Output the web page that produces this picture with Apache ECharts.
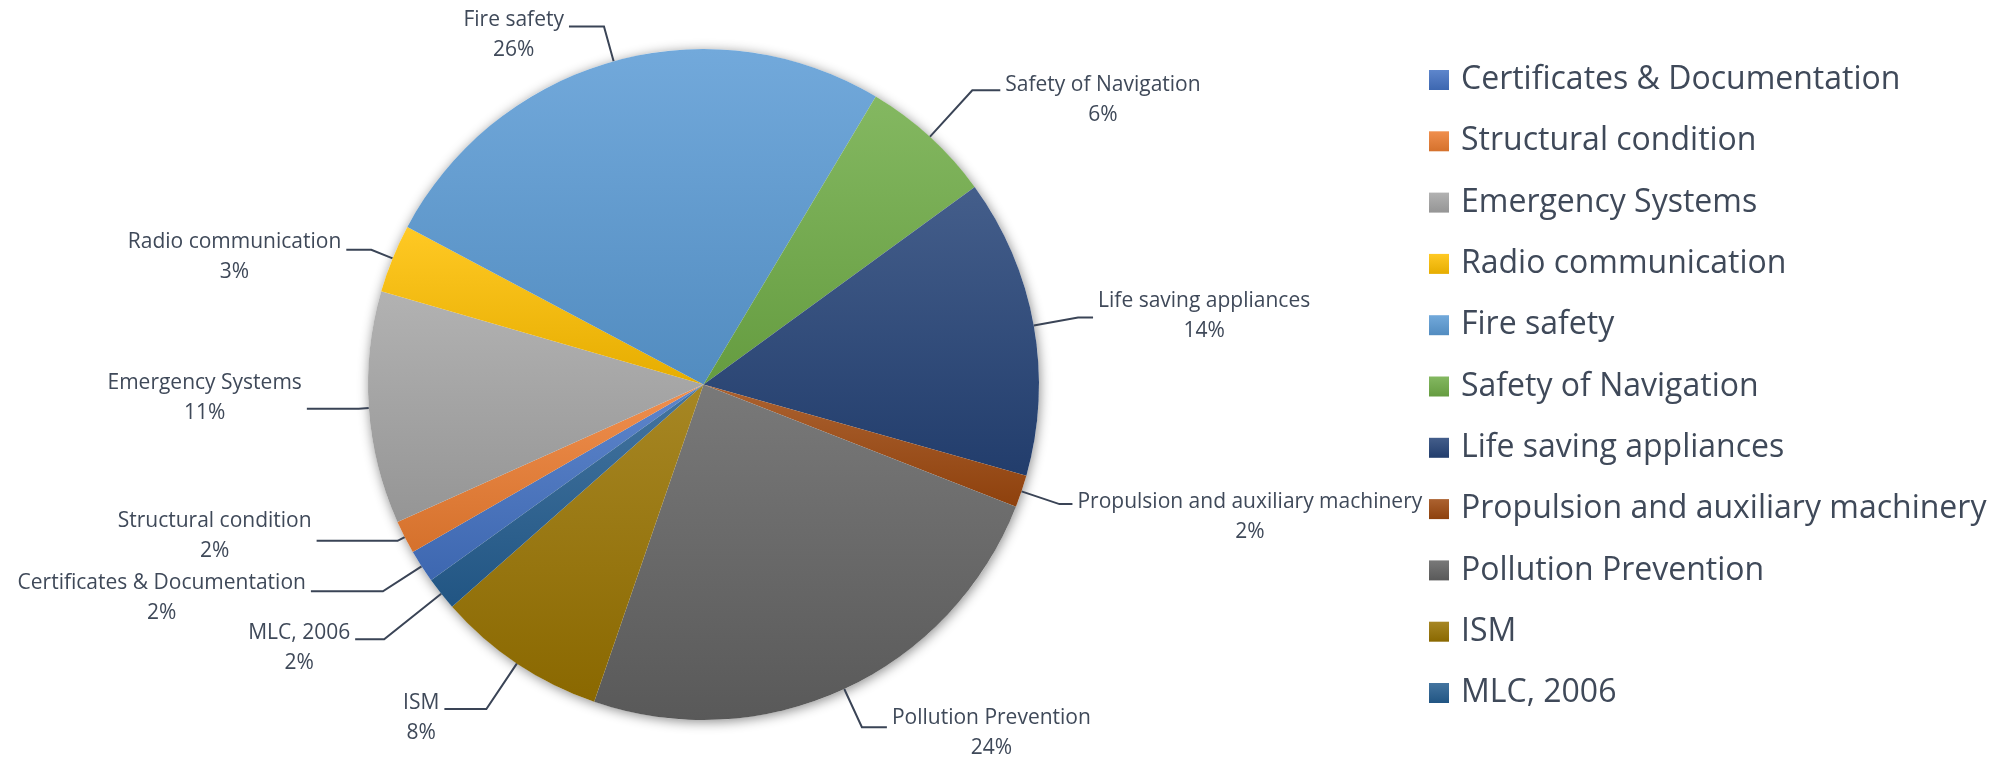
<!DOCTYPE html>
<html><head><meta charset="utf-8">
<script src="https://cdn.jsdelivr.net/npm/echarts@6/dist/echarts.min.js"></script>
<style>html,body{margin:0;padding:0;background:#fff}#c{width:2000px;height:757px}</style>
</head><body><div id="c"></div>
<script>
// ---- data ----
const categories = ['Certificates & Documentation','Structural condition','Emergency Systems','Radio communication','Fire safety','Safety of Navigation','Life saving appliances','Propulsion and auxiliary machinery','Pollution Prevention','ISM','MLC, 2006'];
const shares = [1.6, 1.6, 11.2, 3.3, 25.8, 6.4, 14.4, 1.55, 24.35, 8.2, 1.6];

// ---- styling ----
const baseColors = ['#4472C4','#ED7D31','#A5A5A5','#FFC000','#5B9BD5','#70AD47','#264478','#9E480E','#636363','#997300','#255E91'];
// leader line per slice: [length, length2, padTop, padBottom]
const leader = [[46,72,14,0],[8,81,0,10],[10,52,0,22],[23,25,15,0],[36,35,17,0],[63,28,20,0],[45,15,0,2],[40,13,25,0],[42,25,12,0],[55,42,17,0],[73,29,17,0]];
const TEXT = '#3f4959';
const FONT = '"Open Sans", "Noto Sans", sans-serif';

function hex2rgb(h){h=h.replace('#','');return [0,2,4].map(i=>parseInt(h.substr(i,2),16));}
function mix(h, t, f){const c=hex2rgb(h);return 'rgb('+c.map((v,i)=>Math.round(v+(t[i]-v)*f)).join(',')+')';}
function grad(h){
  return {type:'linear',x:0,y:0,x2:0,y2:1,colorStops:[
    {offset:0,color:mix(h,[255,255,255],0.14)},
    {offset:1,color:mix(h,[0,0,0],0.1)}]};
}

const pieData = categories.map((name, i) => ({
  name: name,
  value: shares[i],
  itemStyle: {color: grad(baseColors[i])},
  label: {padding: [leader[i][2], 0, leader[i][3], 0]},
  labelLine: {length: leader[i][0], length2: leader[i][1]}
}));

const chart = echarts.init(document.getElementById('c'), null, {renderer: 'canvas'});
chart.setOption({
  animation: false,
  backgroundColor: '#ffffff',
  legend: {
    data: categories,
    orient: 'vertical',
    left: 1424,
    top: 57,
    itemWidth: 20,
    itemHeight: 20,
    itemGap: 25.3,
    icon: 'rect',
    textStyle: {fontFamily: FONT, fontSize: 32, lineHeight: 36, color: TEXT, padding: [0,0,0,7]}
  },
  series: [
    {
      type: 'pie',
      silent: true,
      center: [703.5, 384.5],
      radius: 335.5,
      label: {show: false},
      labelLine: {show: false},
      itemStyle: {color: '#ffffff', shadowBlur: 12, shadowColor: 'rgba(0,0,0,0.45)', shadowOffsetX: 1, shadowOffsetY: 2},
      data: [{value: 1, name: '__bg'}],
      z: 1
    },
    {
      type: 'pie',
      center: [703.5, 384.5],
      radius: 335.5,
      startAngle: 215.7,
      clockwise: true,
      avoidLabelOverlap: false,
      labelLayout: {hideOverlap: false},
      z: 2,
      itemStyle: {borderWidth: 0},
      label: {
        show: true,
        position: 'outside',
        alignTo: 'none',
        distanceToLabelLine: 5,
        color: TEXT,
        fontFamily: FONT,
        fontSize: 21,
        lineHeight: 30,
        formatter: function(p){ return '{n|' + p.name + '}\n{n|' + Math.round(p.percent) + '%}'; },
        rich: {n: {align: 'center', fontFamily: FONT, fontSize: 21, lineHeight: 30, color: TEXT}}
      },
      labelLine: {show: true, lineStyle: {color: '#3a4456', width: 2}},
      emphasis: {disabled: true},
      data: pieData
    }
  ]
});
</script></body></html>
